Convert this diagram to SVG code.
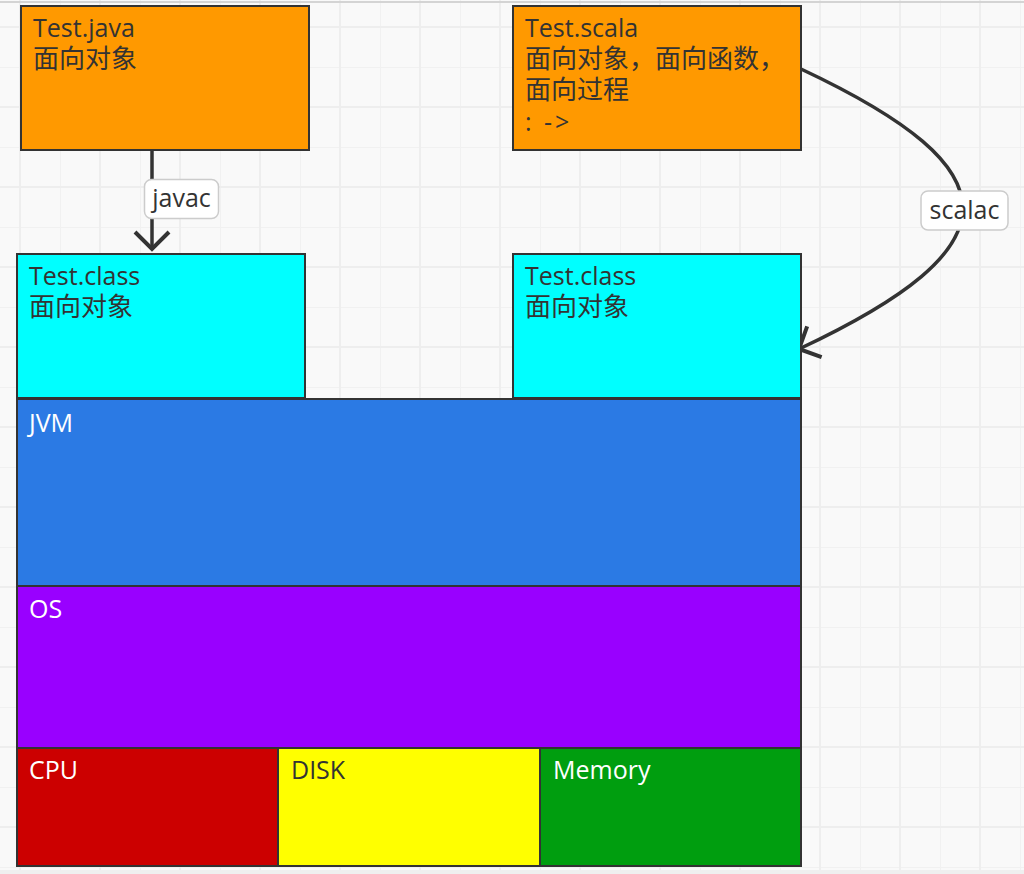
<svg xmlns="http://www.w3.org/2000/svg" width="1024" height="874" viewBox="0 0 1024 874">
<style>
text{font-family:"Open Sans","Noto Sans CJK SC",sans-serif;font-size:25px;fill:#333}
.c{font-family:"Noto Sans CJK SC",sans-serif;font-size:26px}
.w{fill:#ffffff}
.box{stroke:#333;stroke-width:2}
.conn{fill:none;stroke:#333;stroke-width:3.5}
.lbl{fill:#fff;stroke:#ccc;stroke-width:1.5}
</style>
<defs>
<pattern id="grid" x="19" y="26" width="80" height="80" patternUnits="userSpaceOnUse">
<rect width="80" height="80" fill="#f9f9f9"/>
<rect x="41" width="1" height="80" fill="#f1f1f1"/>
<rect y="41" width="80" height="1" fill="#f1f1f1"/>
<rect width="2" height="80" fill="#eeeeee"/>
<rect width="80" height="2" fill="#eeeeee"/>
</pattern>
<marker id="arr" markerUnits="userSpaceOnUse" markerWidth="40" markerHeight="40" refX="20" refY="20" orient="auto" overflow="visible">
<path d="M3,3 L20,20 L3,37" fill="none" stroke="#333" stroke-width="4"/>
</marker>
</defs>
<rect width="1024" height="874" fill="url(#grid)"/>
<rect x="0" y="1" width="1024" height="2" fill="#d4d4d4"/>
<rect x="0" y="870" width="1024" height="4" fill="#efefef"/>

<g id="connectors">
<line class="conn" x1="152" y1="151" x2="152" y2="249" marker-end="url(#arr)"/>
<rect class="lbl" x="144.5" y="179.5" width="74" height="39" rx="7"/>
<text x="181.5" y="207" text-anchor="middle">javac</text>
<path class="conn" d="M801,69 C1018,171 1016,247 799,349" marker-end="url(#arr)"/>
<rect class="lbl" x="921" y="191" width="87" height="39" rx="7"/>
<text x="964.5" y="219" text-anchor="middle">scalac</text>
</g>

<g id="test-java">
<rect class="box" x="21" y="6" width="288" height="144" fill="#ff9900"/>
<text x="33" y="37">Test.java</text>
<text class="c" x="33" y="68">面向对象</text>
</g>

<g id="test-scala">
<rect class="box" x="513" y="6" width="288" height="144" fill="#ff9900"/>
<text x="525" y="37">Test.scala</text>
<text class="c" x="525" y="68">面向对象，面向函数，</text>
<text class="c" x="525" y="99">面向过程</text>
<text x="525" y="131" letter-spacing="3">: -&gt;</text>
</g>

<g id="class-left">
<rect class="box" x="17" y="254" width="288" height="144" fill="#00ffff"/>
<text x="29" y="285">Test.class</text>
<text class="c" x="29" y="316">面向对象</text>
</g>

<g id="class-right">
<rect class="box" x="513" y="254" width="288" height="144" fill="#00ffff"/>
<text x="525" y="285">Test.class</text>
<text class="c" x="525" y="316">面向对象</text>
</g>

<g id="jvm">
<rect class="box" x="17" y="399" width="784" height="187" fill="#2b7ae4"/>
<text class="w" x="29" y="432">JVM</text>
</g>

<g id="os">
<rect class="box" x="17" y="586" width="784" height="162" fill="#9900ff"/>
<text class="w" x="29" y="618">OS</text>
</g>

<g id="cpu">
<rect class="box" x="17" y="748" width="261" height="118" fill="#cc0000"/>
<text class="w" x="29" y="779">CPU</text>
</g>

<g id="disk">
<rect class="box" x="278" y="748" width="262" height="118" fill="#ffff00"/>
<text x="291" y="779">DISK</text>
</g>

<g id="memory">
<rect class="box" x="540" y="748" width="261" height="118" fill="#009e0f"/>
<text class="w" x="553" y="779">Memory</text>
</g>
</svg>
